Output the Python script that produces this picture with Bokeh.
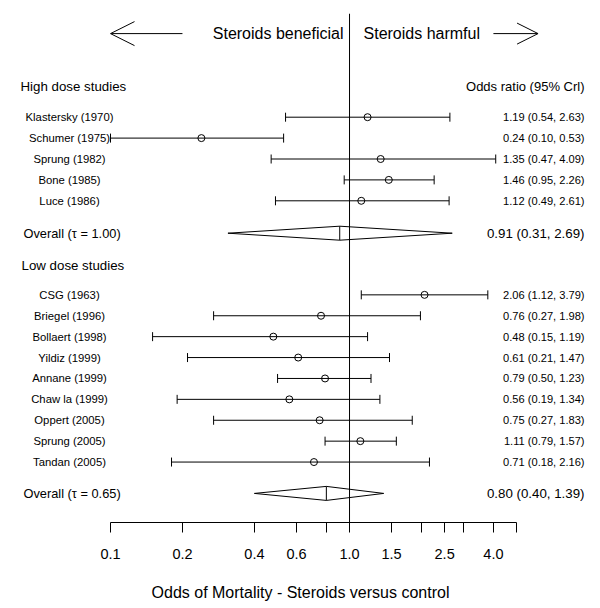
import numpy as np
from bokeh.plotting import figure
from bokeh.models import Range1d, FixedTicker, CustomJSTickFormatter, Arrow, OpenHead
from bokeh.embed import file_html
from bokeh.resources import INLINE
from bokeh.core.properties import value

# ---------------- data ----------------
high_names = ["Klastersky (1970)", "Schumer (1975)", "Sprung (1982)", "Bone (1985)", "Luce (1986)"]
high_or = [1.19, 0.24, 1.35, 1.46, 1.12]
high_lo = [0.54, 0.10, 0.47, 0.95, 0.49]
high_hi = [2.63, 0.53, 4.09, 2.26, 2.61]
high_overall = [0.91, 0.31, 2.69]
high_tau = 1.00

low_names = ["CSG (1963)", "Briegel (1996)", "Bollaert (1998)", "Yildiz (1999)", "Annane (1999)",
             "Chaw la (1999)", "Oppert (2005)", "Sprung (2005)", "Tandan (2005)"]
low_or = [2.06, 0.76, 0.48, 0.61, 0.79, 0.56, 0.75, 1.11, 0.71]
low_lo = [1.12, 0.27, 0.15, 0.21, 0.50, 0.19, 0.27, 0.79, 0.18]
low_hi = [3.79, 1.98, 1.19, 1.47, 1.23, 1.34, 1.83, 1.57, 2.16]
low_overall = [0.80, 0.40, 1.39]
low_tau = 0.65

tick_values = [0.1, 0.2, 0.4, 0.6, 0.8, 1.0, 1.5, 2.0, 2.5, 3.0, 4.0, 5.0]
tick_labels = ["0.1", "0.2", "0.4", "0.6", "1.0", "1.5", "2.5", "4.0"]

# ---------------- layout ----------------
FONT = "Liberation Sans"
FRAME_W, FRAME_H = 584, 514
PAD_LEFT, PAD_TOP, PAD_BOTTOM = 8, 8, 86
X_START, X_END = 0.03743, 10.39
ROW_TOP, ROW_BOTTOM = -5.201, 19.392

high_rows = list(np.arange(len(high_names)) * 1.0)
high_overall_row = 5.55
low_header_row = 7.1
low_rows = list(8.5 + np.arange(len(low_names)) * 1.0)
low_overall_row = 18.0
high_header_row = -1.47
arrow_row = -4.0
vline_top = -4.95
DIAMOND_H = 0.335

p = figure(width=PAD_LEFT + FRAME_W, height=PAD_TOP + FRAME_H + PAD_BOTTOM,
           x_axis_type="log", y_axis_location=None,
           x_range=Range1d(X_START, X_END), y_range=Range1d(ROW_BOTTOM, ROW_TOP),
           output_backend="svg", toolbar_location=None,
           min_border_left=PAD_LEFT, min_border_right=0, min_border_top=PAD_TOP,
           min_border_bottom=PAD_BOTTOM)
p.xgrid.visible = False
p.ygrid.visible = False
p.outline_line_color = None
p.background_fill_color = "white"
p.border_fill_color = "white"

# reference line at OR = 1
p.segment(x0=[1.0], y0=[vline_top], x1=[1.0], y1=[ROW_BOTTOM], line_color="black", line_width=1)

# studies
all_or = high_or + low_or
all_lo = high_lo + low_lo
all_hi = high_hi + low_hi
all_rows = high_rows + low_rows
all_names = high_names + low_names

p.segment(x0=all_lo, y0=all_rows, x1=all_hi, y1=all_rows, line_color="black", line_width=1)
p.dash(x=all_lo + all_hi, y=all_rows + all_rows, size=9, angle=np.pi / 2,
       line_color="black", line_width=1)
p.scatter(x=all_or, y=all_rows, marker="circle", size=7, fill_color=None,
          line_color="black", line_width=1)

# overall diamonds
ov = [high_overall, low_overall]
ov_rows = [high_overall_row, low_overall_row]
xs = [[o[1], o[0], o[2], o[0]] for o in ov]
ys = [[r, r - DIAMOND_H, r, r + DIAMOND_H] for r in ov_rows]
p.patches(xs=xs, ys=ys, fill_color=None, line_color="black", line_width=1)
p.segment(x0=[o[0] for o in ov], y0=[r - DIAMOND_H for r in ov_rows],
          x1=[o[0] for o in ov], y1=[r + DIAMOND_H for r in ov_rows],
          line_color="black", line_width=1)

def txt(x, y, text, size, align, x_offset=0):
    p.text(x=x, y=y, text=text, x_offset=x_offset, text_font=value(FONT),
           text_font_size=size, text_align=align, text_baseline="middle", text_color="black")

# study labels
txt([X_START] * len(all_names), all_rows, all_names, "11.3px", "center", 61)
ci_text = [f"{o:.2f} ({l:.2f}, {h:.2f})" for o, l, h in zip(all_or, all_lo, all_hi)]
txt([X_END] * len(ci_text), all_rows, ci_text, "11.1px", "right", -8)

# section headers
txt([X_START], [high_header_row], ["High dose studies"], "13.3px", "left", 12)
txt([X_START], [low_header_row], ["Low dose studies"], "13.3px", "left", 13)
txt([X_END], [high_header_row], ["Odds ratio (95% Crl)"], "13px", "right", -8)

# overall labels
txt([X_START, X_START], ov_rows,
    [f"Overall (\u03c4 = {high_tau:.2f})", f"Overall (\u03c4 = {low_tau:.2f})"], "12.8px", "left", 15)
txt([X_END, X_END], ov_rows, [f"{o[0]:.2f} ({o[1]:.2f}, {o[2]:.2f})" for o in ov], "13.3px", "right", -8)

# direction header
txt([1.0], [arrow_row], ["Steroids beneficial"], "16px", "right", -6)
txt([1.0], [arrow_row], ["Steroids harmful"], "16px", "left", 14)
p.add_layout(Arrow(end=OpenHead(size=24, line_width=1, line_color="black"),
                   x_start=0.2, y_start=arrow_row, x_end=0.1, y_end=arrow_row,
                   line_color="black", line_width=1))
p.add_layout(Arrow(end=OpenHead(size=21, line_width=1, line_color="black"),
                   x_start=4.0, y_start=arrow_row, x_end=6.15, y_end=arrow_row,
                   line_color="black", line_width=1))

# axis
ax = p.xaxis[0]
ax.ticker = FixedTicker(ticks=tick_values)
ax.formatter = CustomJSTickFormatter(args=dict(labels=tick_labels),
                                     code="const s = tick.toFixed(1); return labels.includes(s) ? s : '';")
ax.bounds = (tick_values[0], tick_values[-1])
ax.axis_line_color = "black"
ax.major_tick_line_color = "black"
ax.major_tick_out = 10
ax.major_tick_in = 0
ax.minor_tick_out = 0
ax.minor_tick_in = 0
ax.major_label_standoff = 16
ax.major_label_text_font = FONT
ax.major_label_text_font_size = "14.5px"
ax.major_label_text_color = "black"
ax.axis_label = "Odds of Mortality - Steroids versus control"
ax.axis_label_text_font = FONT
ax.axis_label_text_font_size = "16px"
ax.axis_label_text_font_style = "normal"
ax.axis_label_text_color = "black"
ax.axis_label_standoff = 22

open("out.html", "w").write(file_html(p, INLINE))
